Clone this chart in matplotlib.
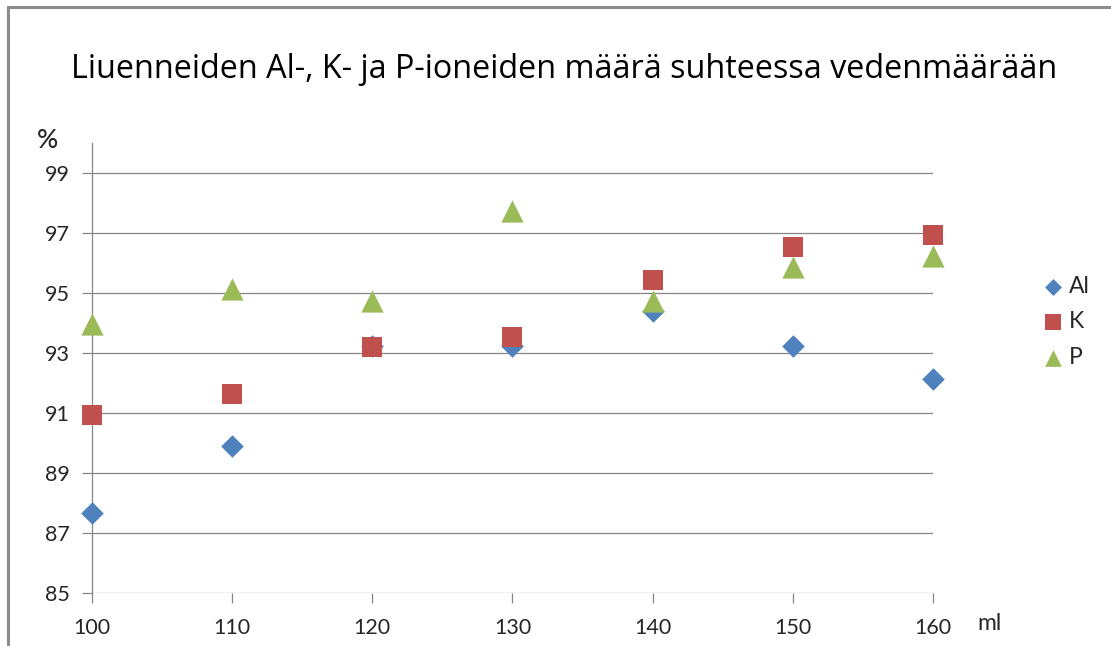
import matplotlib
matplotlib.use("Agg")
import matplotlib.pyplot as plt
from matplotlib.patches import Rectangle

# data
volume_ml = [100, 110, 120, 130, 140, 150, 160]
al_pct = [87.67, 89.9, 93.25, 93.25, 94.4, 93.24, 92.13]
k_pct = [90.92, 91.64, 93.19, 93.52, 95.45, 96.55, 96.95]
p_pct = [93.97, 95.12, 94.75, 97.73, 94.74, 95.87, 96.23]
y_ticks = [85, 87, 89, 91, 93, 95, 97, 99]
x_ticks = [100, 110, 120, 130, 140, 150, 160]

plt.rcParams['font.family'] = ['Lato', 'DejaVu Sans']
grid_col = '#868686'
text_col = '#262626'

W, H = 1111, 646
fig = plt.figure(figsize=(W / 100, H / 100), dpi=100)

# outer chart frame (right and bottom edges fall outside the picture)
fig.patches.append(Rectangle((8 / W, -0.1), 1.2, 1 - 7 / H + 0.1,
                             transform=fig.transFigure, fill=False,
                             edgecolor='#8c8c8c', linewidth=2.2))

ax = fig.add_axes([92 / W, 1 - 593 / H, (933 - 92) / W, (593 - 143) / H])

ax.scatter(volume_ml, al_pct, marker='D', s=11.5**2, color='#4F81BD', label='Al',
           zorder=3, linewidths=0, clip_on=False)
ax.scatter(volume_ml, k_pct, marker='s', s=15**2, color='#C0504D', label='K',
           zorder=4, linewidths=0, clip_on=False)
ax.scatter(volume_ml, p_pct, marker='^', s=16**2, color='#9BBB59', label='P',
           zorder=5, linewidths=0, clip_on=False)

ax.set_xlim(100, 160)
ax.set_ylim(85, 100)
ax.set_xticks(x_ticks)
ax.set_yticks(y_ticks)
ax.grid(axis='y', color=grid_col, linewidth=0.9)
ax.set_axisbelow(True)

for side in ['top', 'right', 'bottom']:
    ax.spines[side].set_visible(False)
ax.spines['left'].set_color(grid_col)
ax.spines['left'].set_linewidth(0.9)

ax.tick_params(axis='both', direction='out', length=7, width=0.9, color=grid_col,
               labelsize=15.5, labelcolor=text_col)
ax.tick_params(axis='y', pad=9)
ax.tick_params(axis='x', pad=11)

fig.text(48 / W, 1 - 141 / H, '%', fontsize=19, color=text_col, ha='center', va='center',
         fontweight='medium')
fig.text(977 / W, 1 - 630 / H, 'ml', fontsize=16.5, color=text_col, ha='left', va='baseline')

fig.text(564 / W, 1 - 78 / H, 'Liuenneiden Al-, K- ja P-ioneiden määrä suhteessa vedenmäärään',
         fontsize=23.3, color='black', ha='center', va='baseline',
         family=['Open Sans', 'DejaVu Sans'])

leg = ax.legend(loc='center left', bbox_to_anchor=(1028 / W, 1 - 322 / H),
                bbox_transform=fig.transFigure, frameon=False, fontsize=16.5,
                handletextpad=0.1, labelspacing=0.62, borderpad=0, handlelength=1.2,
                markerscale=0.75)
for t in leg.get_texts():
    t.set_color(text_col)

fig.savefig('out.png', dpi=100)
